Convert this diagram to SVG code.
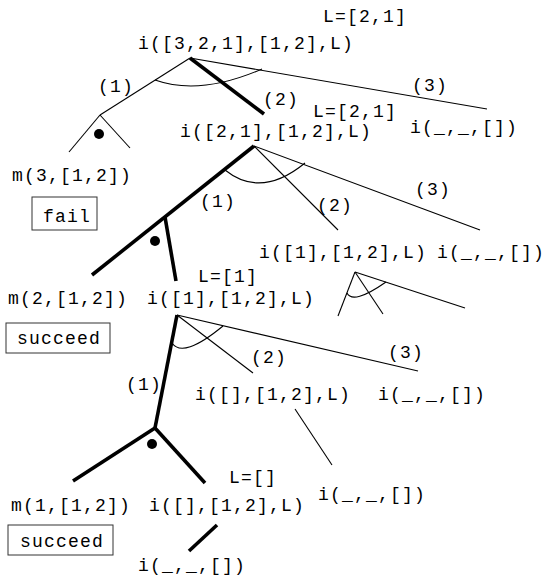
<svg xmlns="http://www.w3.org/2000/svg" width="544" height="578" viewBox="0 0 544 578">
<style>
text{font-family:"Liberation Mono","Courier New",monospace;font-size:18px;letter-spacing:1.2px;fill:#000}
.t{stroke:#000;stroke-width:1.1;fill:none}
.b{stroke:#000;stroke-width:3.6;fill:none}
.box{stroke:#333;stroke-width:1;fill:#fff}
</style>
<rect width="544" height="578" fill="#fff"/>
<g id="connectors">
<line class="t" x1="190" y1="58" x2="100" y2="115"/>
<line class="b" x1="190" y1="58" x2="264" y2="114"/>
<line class="t" x1="190" y1="58" x2="487" y2="109"/>
<path class="t" d="M155,80 Q200,96 262,69"/>
<line class="t" x1="100" y1="115" x2="69" y2="152"/>
<line class="t" x1="100" y1="115" x2="130" y2="148"/>
<line class="b" x1="254" y1="146" x2="92" y2="275"/>
<line class="t" x1="254" y1="146" x2="338" y2="230"/>
<line class="t" x1="254" y1="146" x2="480" y2="230"/>
<path class="t" d="M225,170 Q261,199 305,163"/>
<line class="b" x1="165" y1="217" x2="176" y2="281"/>
<line class="t" x1="355" y1="272" x2="338" y2="316"/>
<line class="t" x1="355" y1="272" x2="383" y2="314"/>
<line class="t" x1="355" y1="272" x2="465" y2="308"/>
<path class="t" d="M347,293 Q353,305 386,282"/>
<line class="b" x1="177" y1="315" x2="155" y2="428"/>
<line class="t" x1="177" y1="315" x2="253" y2="373"/>
<line class="t" x1="177" y1="315" x2="418" y2="371"/>
<path class="t" d="M172,343 Q183,359 223,326"/>
<line class="b" x1="155" y1="428" x2="73" y2="481"/>
<line class="b" x1="155" y1="428" x2="205" y2="483"/>
<line class="t" x1="295" y1="409" x2="332" y2="465"/>
<line class="b" x1="217" y1="525" x2="189" y2="551"/>
<circle cx="99" cy="134" r="5"/>
<circle cx="155" cy="241" r="5"/>
<circle cx="152" cy="444" r="5"/>
</g>
<g id="labels">
<text x="98" y="92">(1)</text>
<text x="263" y="105">(2)</text>
<text x="412" y="91">(3)</text>
<text x="200" y="207">(1)</text>
<text x="317" y="211">(2)</text>
<text x="415" y="195">(3)</text>
<text x="251" y="363">(2)</text>
<text x="388" y="358">(3)</text>
<text x="126" y="390">(1)</text>
</g>
<g id="n1"><text x="323" y="22">L=[2,1]</text><text x="138" y="49">i([3,2,1],[1,2],L)</text></g>
<g id="n1c"><text x="410" y="133">i(_,_,[])</text></g>
<g id="n2"><text x="313" y="117">L=[2,1]</text><text x="180" y="137">i([2,1],[1,2],L)</text></g>
<g id="m3"><text x="12" y="181">m(3,[1,2])</text></g>
<g id="fail"><rect class="box" x="32" y="197" width="65" height="33"/><text x="43" y="222">fail</text></g>
<g id="n2b"><text x="259" y="258">i([1],[1,2],L)</text></g>
<g id="n2c"><text x="437" y="258">i(_,_,[])</text></g>
<g id="n3"><text x="198" y="282">L=[1]</text><text x="147" y="304">i([1],[1,2],L)</text></g>
<g id="m2"><text x="8" y="304">m(2,[1,2])</text></g>
<g id="succ1"><rect class="box" x="6" y="323" width="104" height="30"/><text x="17" y="344">succeed</text></g>
<g id="n3b"><text x="195" y="400">i([],[1,2],L)</text></g>
<g id="n3c"><text x="378" y="400">i(_,_,[])</text></g>
<g id="n3bc"><text x="318" y="500">i(_,_,[])</text></g>
<g id="n4"><text x="229" y="483">L=[]</text><text x="149" y="511">i([],[1,2],L)</text></g>
<g id="m1"><text x="11" y="511">m(1,[1,2])</text></g>
<g id="succ2"><rect class="box" x="8" y="525" width="105" height="30"/><text x="20" y="547">succeed</text></g>
<g id="n4b"><text x="138" y="571">i(_,_,[])</text></g>
</svg>
